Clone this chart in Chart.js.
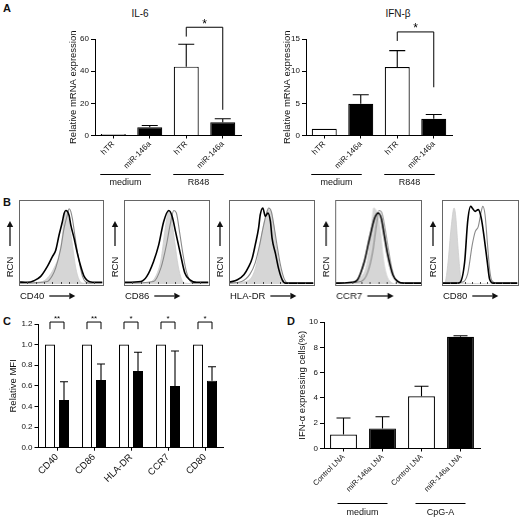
<!DOCTYPE html>
<html><head><meta charset="utf-8">
<script src="https://cdn.jsdelivr.net/npm/chart.js@4.4.1/dist/chart.umd.min.js"></script>
<style>
html,body{margin:0;padding:0;background:#fff;width:520px;height:519px;overflow:hidden;font-family:"Liberation Sans",Arial,Helvetica,sans-serif;}
.t{position:absolute;color:#111;white-space:nowrap;line-height:1;}
.letter{font-weight:bold;font-size:11px;}
.title{font-size:10px;transform:translateX(-50%);}
</style></head><body>
<div class="t letter" style="left:3px;top:3px">A</div>
<div class="t letter" style="left:3px;top:197px">B</div>
<div class="t letter" style="left:3px;top:316px">C</div>
<div class="t letter" style="left:287px;top:316px">D</div>
<div class="t title" style="left:140px;top:9px">IL-6</div>
<div class="t title" style="left:398px;top:9px">IFN-β</div>
<script>
// ---------- DATA ----------
const aCategories = ['hTR', 'miR-146a', 'hTR', 'miR-146a'];
const aGroups = ['medium', 'R848'];
const il6Values = [1.0, 5.2, 42.8, 8.3];
const il6Errors = [0, 1.0, 13.9, 2.1];
const il6Ticks = [0, 20, 40, 60];
const ifnbValues = [1.04, 4.93, 10.64, 2.6];
const ifnbErrors = [0, 1.4, 2.56, 0.67];
const ifnbTicks = [0, 5, 10, 15];
const aSigLabel = ['*'];

const bMarkers = ['CD40', 'CD86', 'HLA-DR', 'CCR7', 'CD80'];
// histogram points [channel %, relative cell number %]
const cd40Iso  = [[0,1],[26,2.4],[34,7],[42,19],[48,34.5],[52,58],[54,77],[56,87],[58,82],[60,73],[64,46],[68,19],[72,5],[76,1],[100,0]];
const cd40Ctrl = [[0,1],[34,3],[40,10],[44,19],[50,42],[54,66],[58,82],[60,89],[62,86],[64,77],[68,50],[72,26.7],[76,9],[80,2.4],[86,1],[100,1]];
const cd40Mir  = [[0,2.4],[10,2],[18,3.9],[26,9],[34,20.8],[40,32.5],[44,40],[48,58],[52,74],[54,83.5],[56,87],[58,86],[60,81],[62,70],[66,54],[70,36],[74,20.8],[78,9],[82,3.9],[88,2],[100,2]];
const cd86Iso  = [[0,0.5],[30,2],[38,10],[44,30],[48,60],[51,80],[53,87],[56,78],[60,50],[64,22],[68,6],[72,1],[100,0]];
const cd86Ctrl = [[0,1],[35,3],[44,20],[50,45],[55,72],[59,87],[62,84],[66,60],[70,34],[74,14],[78,4],[82,1],[100,1]];
const cd86Mir  = [[0,2],[20,3],[27,9],[35,26.7],[41,46],[47,74],[53,87],[57,80],[61,62],[67,34.5],[72,13],[78,5],[86,2],[100,2]];
const hlaIso   = [[0,0.5],[20,3],[28,10],[34,30],[38,55],[42,75],[46,88],[50,86],[53,70],[56,45],[60,20],[64,5],[68,1],[100,0]];
const hlaCtrl  = [[0,1],[15,3],[25,12],[31,25],[36,45],[40,65],[44,82],[47,90],[50,86],[53,70],[57,45],[61,22],[65,7],[70,1],[100,1]];
const hlaMir   = [[0,2],[10,5],[17.6,11],[23.5,20.8],[27.5,30.6],[31,46],[35,66],[37,82],[40,90],[43,80],[46,84],[49,74],[51,54],[55,36],[59,17],[63,5],[67,1],[100,1]];
const ccr7Iso  = [[0,1],[20,3],[30,8],[36,20],[40,45],[43,75],[45,90],[47,88],[50,80],[53,60],[56,30],[60,10],[64,3],[70,0],[100,0]];
const ccr7Ctrl = [[0,1],[30,3],[38,14],[44,40],[48,70],[51,87],[54,85],[58,65],[62,40],[66,18],[70,6],[76,1],[100,1]];
const ccr7Mir  = [[0,1],[20,2],[26,5],[34,26.7],[40,54],[46,78],[50,84],[53.5,78],[57,58],[61,35],[67,11],[73,3],[80,1],[100,1]];
const cd80Iso  = [[0,1],[4,2],[8,26],[12,66],[16,90],[18,82],[21,46],[24,14],[27,1],[100,0]];
const cd80Ctrl = [[0,1],[26,2],[34,12],[40,46],[44,62],[48,68],[52,86],[54,92],[57,82],[60,50],[63,18],[66,4],[72,1],[100,1]];
const cd80Mir  = [[0,1],[20,1],[24,2],[30,26],[34,74],[38,92],[40,90],[44,86],[48,88],[52,78],[56,54],[60,26],[63,6],[68,1],[100,1]];

const cCategories = ['CD40', 'CD86', 'HLA-DR', 'CCR7', 'CD80'];
const cControl = [1.0, 1.0, 1.0, 1.0, 1.0];
const cMir = [0.463, 0.657, 0.744, 0.599, 0.65];
const cMirErrors = [0.177, 0.155, 0.182, 0.339, 0.136];
const cTicks = [0, 0.2, 0.4, 0.6, 0.8, 1.0, 1.2];
const cSigLabels = ['**', '**', '*', '*', '*'];

const dCategories = ['Control LNA', 'miR-146a LNA', 'Control LNA', 'miR-146a LNA'];
const dGroups = ['medium', 'CpG-A'];
const dValues = [1.11, 1.59, 4.13, 8.83];
const dErrors = [1.3, 0.92, 0.79, 0.08];
const dTicks = [0, 2, 4, 6, 8, 10];

// ---------- SETUP ----------
const FONT = '"Liberation Sans", Arial, Helvetica, sans-serif';
Chart.defaults.font.family = FONT;
Chart.defaults.color = '#111';
Chart.defaults.animation = false;

function mount(box) {
  const d = document.createElement('div');
  d.style.cssText = `position:absolute;left:${box.l}px;top:${box.t}px;width:${box.r - box.l}px;height:${box.b - box.t}px;`;
  const c = document.createElement('canvas');
  d.appendChild(c);
  document.body.appendChild(d);
  return c;
}

const errBarPlugin = {
  id: 'errBars',
  afterDatasetsDraw(chart, args, o) {
    const ctx = chart.ctx, ys = chart.scales.y;
    chart.data.datasets.forEach((ds, di) => {
      if (!ds.errors) return;
      chart.getDatasetMeta(di).data.forEach((bar, i) => {
        const e = ds.errors[i];
        if (!e) return;
        const v = ds.data[i];
        const y0 = ys.getPixelForValue(v), y1 = ys.getPixelForValue(v + e);
        ctx.save();
        ctx.strokeStyle = '#000'; ctx.lineWidth = 1.1;
        ctx.beginPath();
        ctx.moveTo(bar.x, y0); ctx.lineTo(bar.x, y1);
        ctx.moveTo(bar.x - o.cap / 2, y1); ctx.lineTo(bar.x + o.cap / 2, y1);
        ctx.stroke();
        ctx.restore();
      });
    });
  }
};

const sigPlugin = {
  id: 'sig',
  afterDraw(chart, args, o) {
    if (!o || !o.items) return;
    const ctx = chart.ctx, ys = chart.scales.y;
    o.items.forEach(it => {
      const xa = chart.getDatasetMeta(it.a[0]).data[it.a[1]].x;
      const xb = chart.getDatasetMeta(it.b[0]).data[it.b[1]].x;
      const yt = ys.getPixelForValue(it.top), ya = ys.getPixelForValue(it.aEnd), yb = ys.getPixelForValue(it.bEnd);
      ctx.save();
      ctx.strokeStyle = '#000'; ctx.lineWidth = 1;
      ctx.beginPath();
      ctx.moveTo(xa, ya); ctx.lineTo(xa, yt); ctx.lineTo(xb, yt); ctx.lineTo(xb, yb);
      ctx.stroke();
      ctx.fillStyle = '#000';
      ctx.font = `${o.starSize}px ${FONT}`;
      ctx.textAlign = 'center'; ctx.textBaseline = 'alphabetic';
      ctx.fillText(it.label, (xa + xb) / 2, yt + o.starDy);
      ctx.restore();
    });
  }
};

const groupPlugin = {
  id: 'groups',
  afterDraw(chart, args, o) {
    if (!o || !o.labels) return;
    const ctx = chart.ctx, xs = chart.scales.x, bottom = chart.chartArea.bottom;
    o.labels.forEach((lab, g) => {
      const [i0, i1] = o.spans[g];
      const x0 = xs.getPixelForValue(i0) + o.left, x1 = xs.getPixelForValue(i1) + o.right;
      const y = Math.round(bottom + o.lineDy) + 0.5;
      ctx.save();
      ctx.strokeStyle = '#000'; ctx.lineWidth = 1;
      ctx.beginPath(); ctx.moveTo(x0, y); ctx.lineTo(x1, y); ctx.stroke();
      ctx.fillStyle = '#111';
      ctx.font = `${o.size}px ${FONT}`;
      ctx.textAlign = 'center'; ctx.textBaseline = 'middle';
      ctx.fillText(lab, (x0 + x1) / 2, bottom + o.textDy);
      ctx.restore();
    });
  }
};

function barChart(cfg) {
  const {box, area} = cfg;
  const lh = cfg.yTitleSize * 1.2;
  return new Chart(mount(box), {
    type: 'bar',
    data: {labels: cfg.labels, datasets: cfg.datasets},
    options: {
      responsive: true, maintainAspectRatio: false, animation: false,
      layout: {padding: {left: 0, top: area.t - box.t, right: box.r - area.r, bottom: 0}},
      plugins: {legend: {display: false}, tooltip: {enabled: false}, errBars: cfg.err, sig: cfg.sig || {}, groups: cfg.groups || {}},
      scales: {
        x: {
          offset: true,
          grid: {display: true, drawOnChartArea: false, tickLength: 3, color: '#000', lineWidth: 1, offset: false},
          border: {display: true, color: '#000', width: 1},
          ticks: {font: {size: cfg.labelSize}, color: '#111', maxRotation: 45, minRotation: 45, autoSkip: false, padding: 1},
          afterFit: s => { s.height = box.b - area.b; }
        },
        y: {
          min: 0, max: cfg.yMax,
          afterBuildTicks: s => { s.ticks = cfg.yTicks.map(v => ({value: v})); },
          grid: {display: true, drawOnChartArea: false, tickLength: 4, color: '#000', lineWidth: 1},
          border: {display: true, color: '#000', width: 1},
          ticks: {font: {size: 8}, color: '#111', padding: 2, callback: v => cfg.tickFmt(v)},
          title: {display: true, text: cfg.yTitle, font: {size: cfg.yTitleSize}, color: '#111',
                  padding: {top: cfg.titleX - box.l - lh / 2, bottom: 0}},
          afterFit: s => { s.width = area.l - box.l; }
        }
      }
    },
    plugins: [errBarPlugin, sigPlugin, groupPlugin]
  });
}

function arrow(ctx, x0, y0, x1, y1) {
  const ang = Math.atan2(y1 - y0, x1 - x0), L = 6, W = 3.2;
  ctx.beginPath();
  ctx.moveTo(x0, y0);
  ctx.lineTo(x1 - L * Math.cos(ang), y1 - L * Math.sin(ang));
  ctx.stroke();
  ctx.beginPath();
  ctx.moveTo(x1, y1);
  ctx.lineTo(x1 - L * Math.cos(ang) - W * Math.sin(ang), y1 - L * Math.sin(ang) + W * Math.cos(ang));
  ctx.lineTo(x1 - L * Math.cos(ang) + W * Math.sin(ang), y1 - L * Math.sin(ang) - W * Math.cos(ang));
  ctx.closePath();
  ctx.fill();
}

const histFramePlugin = {
  id: 'histFrame',
  afterDraw(chart, args, o) {
    const ctx = chart.ctx, a = chart.chartArea;
    ctx.save();
    ctx.strokeStyle = '#666'; ctx.lineWidth = 1;
    ctx.strokeRect(Math.round(a.left) + 0.5, Math.round(a.top) + 0.5, Math.round(a.right - a.left), Math.round(a.bottom - a.top));
    // minor ticks along the bottom
    ctx.strokeStyle = '#444';
    ctx.beginPath();
    for (let k = 1; k < 10; k++) {
      const x = Math.round(a.left + (a.right - a.left) * k / 10) + 0.5;
      ctx.moveTo(x, a.bottom); ctx.lineTo(x, a.bottom - 2);
    }
    ctx.stroke();
    ctx.fillStyle = '#111'; ctx.strokeStyle = '#000'; ctx.lineWidth = 1.2;
    // RCN label + arrow
    ctx.save();
    ctx.translate(a.left - 9, a.bottom - 17);
    ctx.rotate(-Math.PI / 2);
    ctx.font = `9.5px ${FONT}`;
    ctx.textAlign = 'center'; ctx.textBaseline = 'middle';
    ctx.fillText('RCN', 0, 0);
    ctx.restore();
    arrow(ctx, a.left - 9, a.bottom - 38, a.left - 9, a.bottom - 63);
    // marker label + arrow
    ctx.font = `9.5px ${FONT}`;
    ctx.textAlign = 'left'; ctx.textBaseline = 'middle';
    const ty = a.bottom + 12;
    ctx.fillText(o.marker, a.left + 1, ty);
    const w = ctx.measureText(o.marker).width;
    arrow(ctx, a.left + 1 + w + 5, ty, a.left + 1 + w + 31, ty);
    ctx.restore();
  }
};

const toXY = arr => arr.map(p => ({x: p[0], y: p[1]}));

function histChart(area, marker, iso, ctrl, mir) {
  const box = {l: area.l - 18, t: 196, r: area.r + 1.5, b: 305};
  return new Chart(mount(box), {
    type: 'line',
    data: {datasets: [
      {data: toXY(mir), borderColor: '#000', borderWidth: 1.6, pointRadius: 0, fill: false, cubicInterpolationMode: 'monotone'},
      {data: toXY(ctrl), borderColor: '#8a8a8a', borderWidth: 1.1, pointRadius: 0, fill: false, cubicInterpolationMode: 'monotone'},
      {data: toXY(iso), borderColor: '#cdcdcd', backgroundColor: '#d6d6d6', borderWidth: 0.8, pointRadius: 0, fill: 'origin', cubicInterpolationMode: 'monotone'}
    ]},
    options: {
      responsive: true, maintainAspectRatio: false, animation: false,
      layout: {padding: {left: area.l - box.l, top: area.t - box.t, right: box.r - area.r, bottom: box.b - area.b}},
      plugins: {legend: {display: false}, tooltip: {enabled: false}, histFrame: {marker}},
      scales: {x: {type: 'linear', min: 0, max: 100, display: false}, y: {min: 0, max: 100, display: false}}
    },
    plugins: [histFramePlugin]
  });
}

const barColorsA = ['#fff', '#000', '#fff', '#000'];

// ---------- PANEL A ----------
barChart({
  box: {l: 40, t: 0, r: 250, b: 195}, area: {l: 95, t: 39, r: 241, b: 135.5}, titleX: 73,
  labels: aCategories, labelSize: 8, yMax: 60, yTicks: il6Ticks, tickFmt: v => String(v),
  yTitle: 'Relative mRNA expression', yTitleSize: 9.5,
  datasets: [{data: il6Values, errors: il6Errors, backgroundColor: barColorsA, borderColor: '#000', borderWidth: 1.2,
              categoryPercentage: 1, barPercentage: 0.685}],
  err: {cap: 16},
  sig: {starSize: 12, starDy: 0.5, items: [{a: [0, 2], b: [0, 3], top: 67.3, aEnd: 61.5, bEnd: 16, label: aSigLabel[0]}]},
  groups: {labels: aGroups, spans: [[0, 1], [2, 3]], left: -13, right: 1, lineDy: 38.5, textDy: 47, size: 9}
});
barChart({
  box: {l: 270, t: 0, r: 470, b: 195}, area: {l: 306, t: 39, r: 452, b: 135.5}, titleX: 287,
  labels: aCategories, labelSize: 8, yMax: 15, yTicks: ifnbTicks, tickFmt: v => String(v),
  yTitle: 'Relative mRNA expression', yTitleSize: 9.5,
  datasets: [{data: ifnbValues, errors: ifnbErrors, backgroundColor: barColorsA, borderColor: '#000', borderWidth: 1.2,
              categoryPercentage: 1, barPercentage: 0.685}],
  err: {cap: 16},
  sig: {starSize: 12, starDy: 0.5, items: [{a: [0, 2], b: [0, 3], top: 16.1, aEnd: 14.7, bEnd: 7.5, label: aSigLabel[0]}]},
  groups: {labels: aGroups, spans: [[0, 1], [2, 3]], left: -13, right: 1, lineDy: 38.5, textDy: 47, size: 9}
});

// ---------- PANEL B ----------
histChart({l: 18.5, t: 199.5, r: 102, b: 284}, bMarkers[0], cd40Iso, cd40Ctrl, cd40Mir);
histChart({l: 123.5, t: 199.5, r: 208, b: 284}, bMarkers[1], cd86Iso, cd86Ctrl, cd86Mir);
histChart({l: 228.5, t: 199.5, r: 313, b: 284}, bMarkers[2], hlaIso, hlaCtrl, hlaMir);
histChart({l: 335, t: 199.5, r: 420, b: 284}, bMarkers[3], ccr7Iso, ccr7Ctrl, ccr7Mir);
histChart({l: 442, t: 199.5, r: 517.5, b: 284}, bMarkers[4], cd80Iso, cd80Ctrl, cd80Mir);

// ---------- PANEL C ----------
barChart({
  box: {l: 0, t: 305, r: 240, b: 519}, area: {l: 38.5, t: 324, r: 223.5, b: 447.7}, titleX: 13,
  labels: cCategories, labelSize: 9.5, yMax: 1.2, yTicks: cTicks, tickFmt: v => v.toFixed(1),
  yTitle: 'Relative MFI', yTitleSize: 9.5,
  datasets: [
    {data: cControl, backgroundColor: '#fff', borderColor: '#000', borderWidth: 1.1, categoryPercentage: 0.757, barPercentage: 0.714},
    {data: cMir, errors: cMirErrors, backgroundColor: '#000', borderColor: '#000', borderWidth: 1, categoryPercentage: 0.757, barPercentage: 0.714}
  ],
  err: {cap: 8},
  sig: {starSize: 8, starDy: -1.5, items: cSigLabels.map((lab, i) => ({a: [0, i], b: [1, i], top: 1.219, aEnd: 1.15, bEnd: 1.15, label: lab}))}
});

// ---------- PANEL D ----------
barChart({
  box: {l: 280, t: 305, r: 515, b: 519}, area: {l: 324, t: 322, r: 480, b: 448.5}, titleX: 302,
  labels: dCategories, labelSize: 7.5, yMax: 10, yTicks: dTicks, tickFmt: v => String(v),
  yTitle: 'IFN-α expressing cells(%)', yTitleSize: 9.5,
  datasets: [{data: dValues, errors: dErrors, backgroundColor: barColorsA, borderColor: '#000', borderWidth: 1.2,
              categoryPercentage: 1, barPercentage: 0.69}],
  err: {cap: 14},
  groups: {labels: dGroups, spans: [[0, 1], [2, 3]], left: -6, right: 5, lineDy: 54, textDy: 64, size: 9}
});
</script>
</body></html>
